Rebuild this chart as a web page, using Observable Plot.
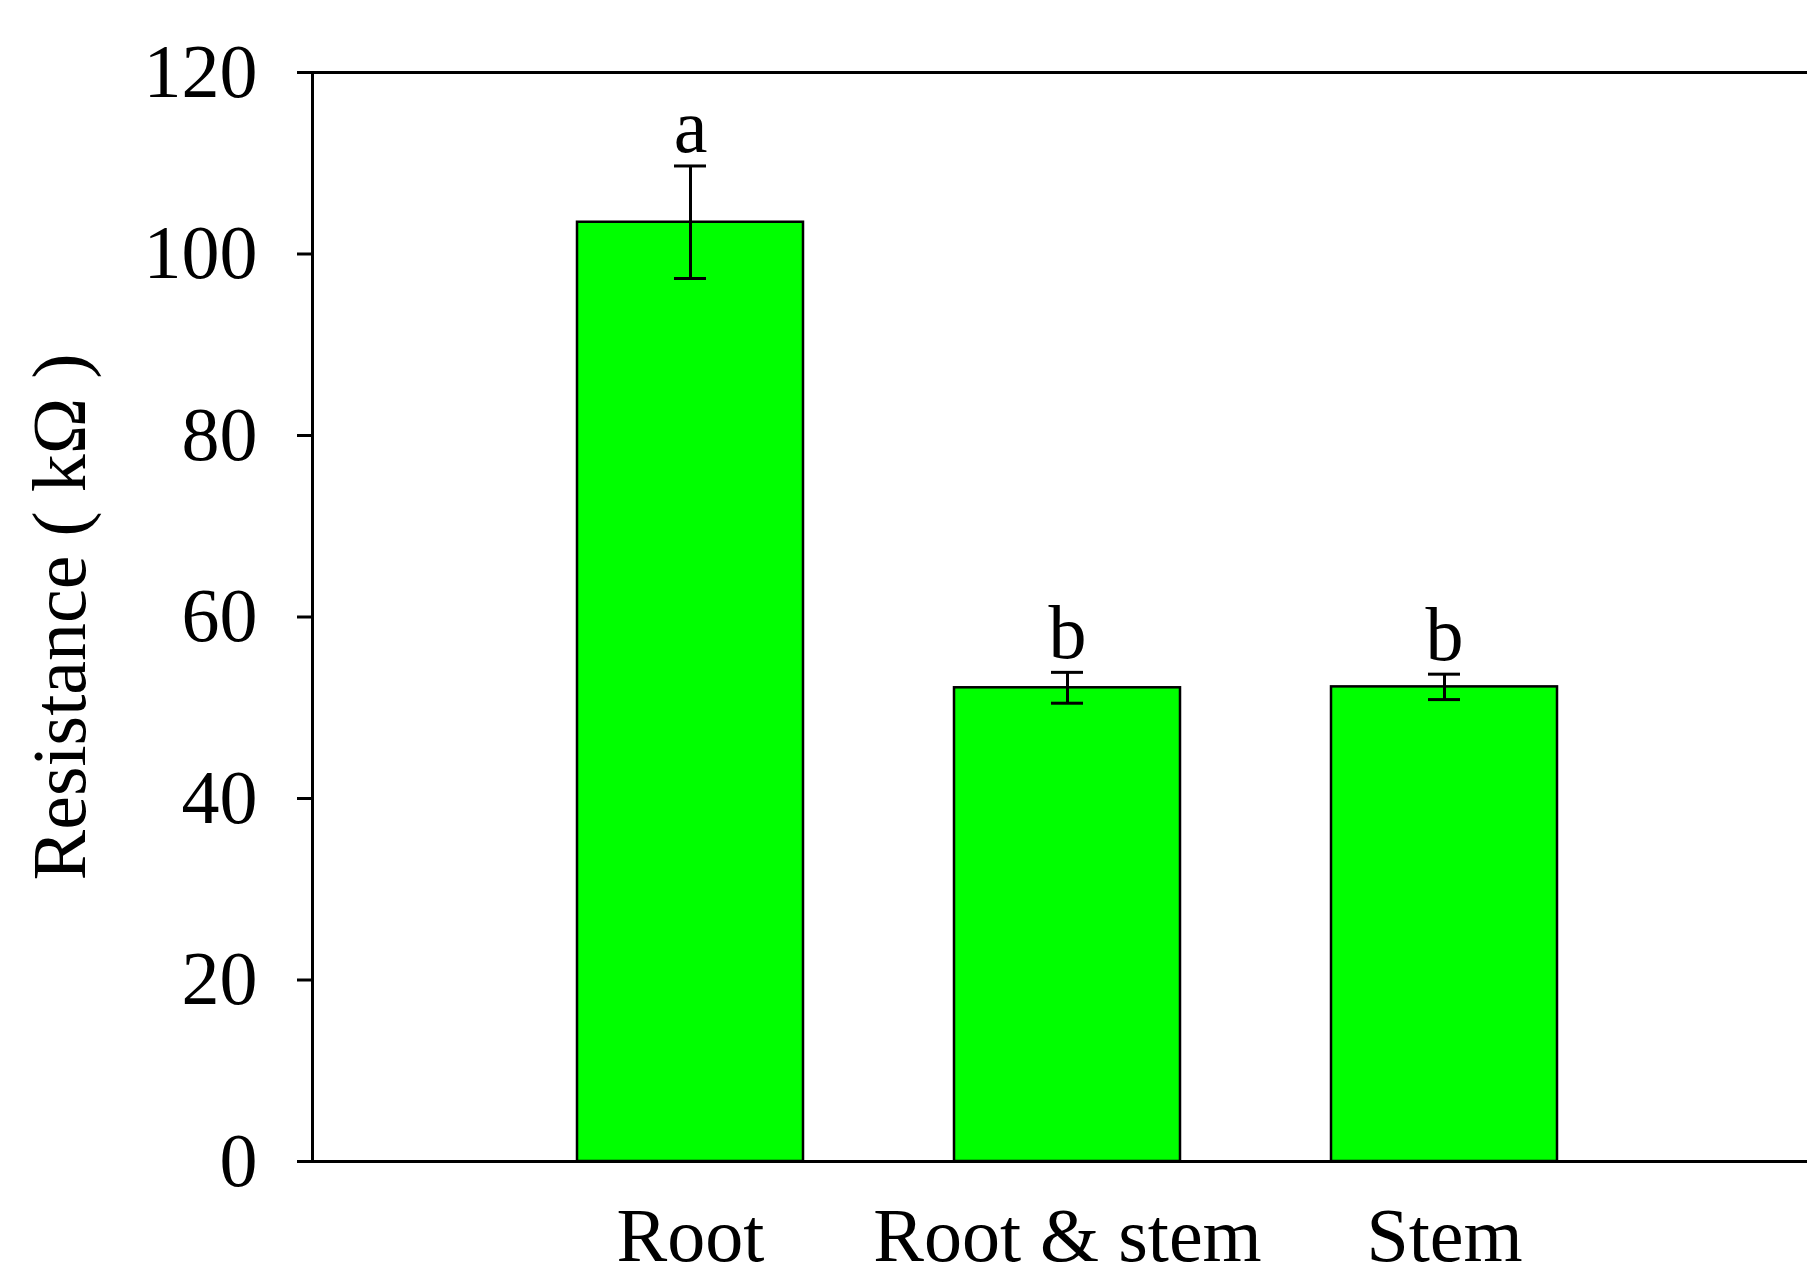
<!DOCTYPE html>
<html>
<head>
<meta charset="utf-8">
<script src="https://cdn.jsdelivr.net/npm/d3@7"></script>
<script src="https://cdn.jsdelivr.net/npm/@observablehq/plot@0.6"></script>
<style>
  html, body { margin: 0; padding: 0; overflow: hidden; background: white; }
  #chart svg { display: block; max-width: none; }
</style>
</head>
<body>
<div id="chart"></div>
<script>
const categories = ["Root", "Root & stem", "Stem"];
const values = [103.5, 52.2, 52.3];
const errors = [6.2, 1.7, 1.4];
const letters = ["a", "b", "b"];
const yTicks = [0, 20, 40, 60, 80, 100, 120];
const yLabel = "Resistance ( kΩ )";

const data = categories.map((c, i) => ({cat: c, value: values[i], err: errors[i], letter: letters[i]}));

const font = "'Liberation Serif', 'Times New Roman', serif";

const chart = Plot.plot({
  width: 1807,
  height: 1282,
  marginLeft: 312,
  marginRight: 0,
  marginTop: 72,
  marginBottom: 121,
  style: {fontFamily: font, fontSize: "76px", color: "black", background: "white"},
  x: {type: "band", domain: categories, range: [312, 1822], paddingInner: 0.4, paddingOuter: 0.7},
  y: {domain: [0, 120]},
  marks: [
    Plot.barY(data, {x: "cat", y: "value", fill: "#00ff00", stroke: "black", strokeWidth: 2.5}),
    Plot.ruleX(data, {x: "cat", y1: d => d.value - d.err, y2: d => d.value + d.err, stroke: "black", strokeWidth: 3}),
    Plot.tickY(data, {x: "cat", y: d => d.value + d.err, stroke: "black", strokeWidth: 3, insetLeft: 97, insetRight: 97}),
    Plot.tickY(data, {x: "cat", y: d => d.value - d.err, stroke: "black", strokeWidth: 3, insetLeft: 97, insetRight: 97}),
    Plot.text(data, {x: "cat", y: d => d.value + d.err, text: "letter", dy: -14, lineAnchor: "bottom", fontSize: 76, fontFamily: font, fill: "black"}),
    Plot.ruleY([0, 120], {stroke: "black", strokeWidth: 3}),
    Plot.frame({anchor: "left", stroke: "black", strokeWidth: 3}),
    Plot.axisY({ticks: yTicks, tickSize: 15, tickPadding: 40, label: null, fontSize: 76, strokeWidth: 3, tickFormat: d => String(d)}),
    Plot.axisX({tickSize: 0, tickPadding: 46, label: null, fontSize: 76}),
    Plot.text([yLabel], {frameAnchor: "left", rotate: -90, dx: -252, fontSize: 76, fontFamily: font, fill: "black", textAnchor: "middle", lineAnchor: "middle"})
  ]
});
document.getElementById("chart").appendChild(chart);
</script>
</body>
</html>
